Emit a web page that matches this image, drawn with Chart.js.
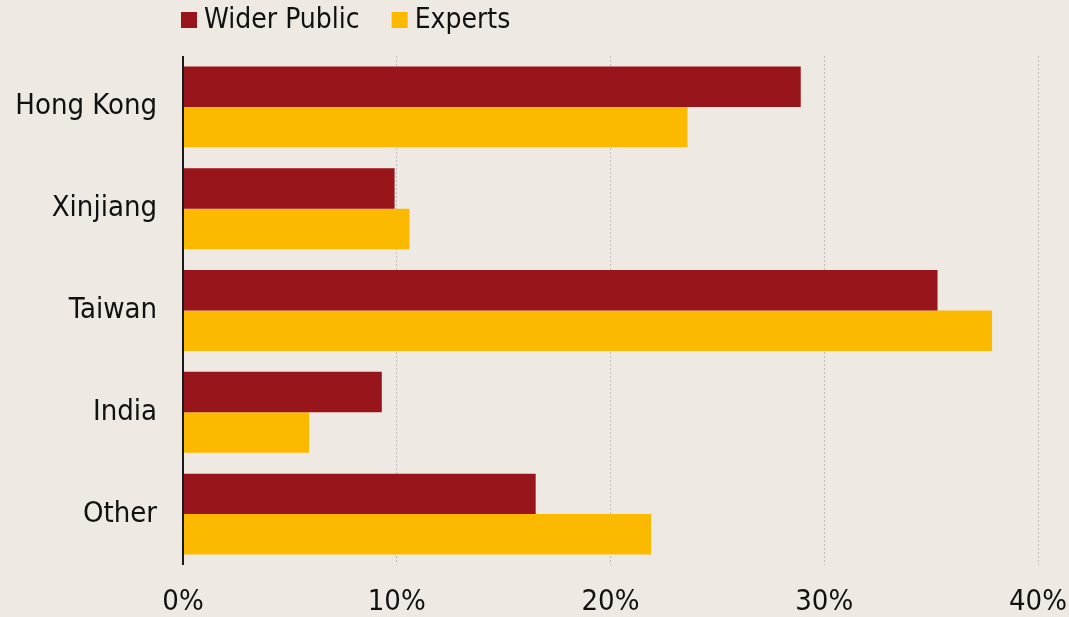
<!DOCTYPE html>
<html>
<head>
<meta charset="utf-8">
<script src="https://cdn.jsdelivr.net/npm/chart.js@4/dist/chart.umd.min.js"></script>
<style>
html,body{margin:0;padding:0;background:#EEE9E3;}
#wrap{width:1069px;height:617px;position:relative;}
</style>
</head>
<body>
<div id="wrap"><canvas id="c" width="1069" height="617"></canvas></div>
<script>
const categories = ["Hong Kong", "Xinjiang", "Taiwan", "India", "Other"];
const widerPublic = [28.9, 9.9, 35.3, 9.3, 16.5];
const experts = [23.6, 10.6, 37.85, 5.9, 21.9];
const seriesNames = ["Wider Public", "Experts"];
const xTicks = [0, 10, 20, 30, 40];

const FONT = "'Liberation Sans Narrow', 'DejaVu Sans Condensed', sans-serif";

const bgPlugin = {
  id: 'bg',
  beforeDraw(chart) {
    const ctx = chart.ctx;
    ctx.save();
    ctx.fillStyle = '#EEE9E3';
    ctx.fillRect(0, 0, chart.width, chart.height);
    ctx.restore();
  }
};

const axisLinePlugin = {
  id: 'axisLine',
  afterDatasetsDraw(chart) {
    const ctx = chart.ctx;
    const x = chart.scales.x.getPixelForValue(0);
    const a = chart.chartArea;
    ctx.save();
    ctx.strokeStyle = '#1a1a1a';
    ctx.lineWidth = 2;
    ctx.beginPath();
    ctx.moveTo(x, a.top);
    ctx.lineTo(x, a.bottom);
    ctx.stroke();
    ctx.restore();
  }
};

// Legend drawn from the datasets (names and colours) above the chart area
const legendPlugin = {
  id: 'customLegend',
  afterDraw(chart) {
    const ctx = chart.ctx;
    ctx.save();
    ctx.font = '28px ' + FONT;
    ctx.textBaseline = 'middle';
    ctx.textAlign = 'left';
    let x = chart.chartArea.left - 2;
    const cy = 20;
    chart.data.datasets.forEach(ds => {
      ctx.fillStyle = ds.backgroundColor;
      ctx.fillRect(x, cy - 8, 16, 16);
      ctx.fillStyle = '#111';
      ctx.fillText(ds.label, x + 23, cy + 1);
      x += 23 + ctx.measureText(ds.label).width + 32;
    });
    ctx.restore();
  }
};

new Chart(document.getElementById('c'), {
  type: 'bar',
  data: {
    labels: categories,
    datasets: [
      { label: seriesNames[0], data: widerPublic, backgroundColor: '#98151C', borderWidth: 0 },
      { label: seriesNames[1], data: experts, backgroundColor: '#FBB900', borderWidth: 0 }
    ]
  },
  options: {
    indexAxis: 'y',
    responsive: false,
    animation: false,
    layout: { padding: { left: 0, right: 31, top: 56, bottom: 0 } },
    datasets: { bar: { categoryPercentage: 0.795, barPercentage: 1.0 } },
    plugins: {
      legend: { display: false },
      tooltip: { enabled: false }
    },
    scales: {
      x: {
        min: 0, max: 40,
        afterBuildTicks(scale) { scale.ticks = xTicks.map(v => ({ value: v })); },
        afterFit(scale) { scale.height = 52; scale.paddingLeft = 0; scale.paddingRight = 0; },
        ticks: {
          callback: v => v + '%',
          color: '#111',
          font: { family: FONT, size: 29 },
          padding: 20,
          maxRotation: 0
        },
        grid: {
          color: '#BDBDBD', lineWidth: 1,
          drawTicks: false
        },
        border: { display: false, dash: [2, 2] }
      },
      y: {
        afterFit(scale) { scale.width = 183; },
        ticks: {
          color: '#111',
          font: { family: FONT, size: 29 },
          padding: 26
        },
        grid: { display: false, drawTicks: false },
        border: { display: false }
      }
    }
  },
  plugins: [bgPlugin, axisLinePlugin, legendPlugin]
});
</script>
</body>
</html>
